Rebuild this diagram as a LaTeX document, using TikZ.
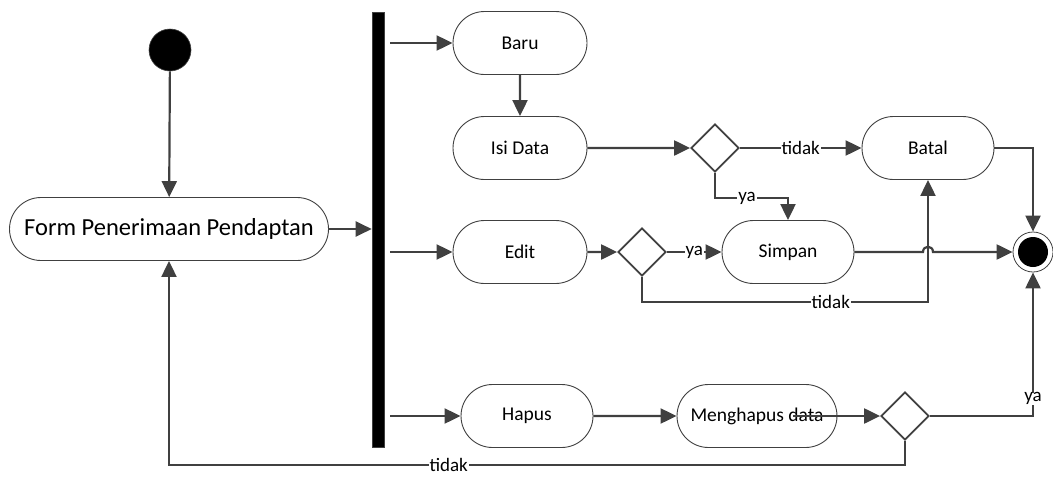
\documentclass[tikz,border=0pt]{standalone}
\usepackage{fontspec}
\setmainfont{Carlito}
\usetikzlibrary{arrows.meta,shapes.geometric,shapes.misc,calc}
\definecolor{ln}{HTML}{404040}
\tikzset{
  act/.style={rounded rectangle, draw=ln, line width=0.9pt, fill=white, minimum width=134pt, minimum height=63pt, inner sep=0pt, font=\fontsize{19.5}{20}\selectfont},
  dec/.style={diamond, draw=ln, line width=1.8pt, fill=white, minimum width=48pt, minimum height=48pt, inner sep=0pt},
  flow/.style={draw=ln, line width=2.2pt, -{Triangle[length=16pt,width=15pt]}},
  lbl/.style={fill=white, inner xsep=1pt, inner ysep=0pt, font=\fontsize{19}{19}\selectfont},
}
\begin{document}
\begin{tikzpicture}[x=1pt,y=-1pt]
\useasboundingbox (0,0) rectangle (1053,477);
% nodes
\node[circle, fill=black, draw=ln, line width=0.6pt, minimum size=42pt, inner sep=0pt] (start) at (170,50) {};
\node[act, minimum width=319pt, font=\fontsize{24.5}{25}\selectfont] (form) at (169,229) {Form Penerimaan Pendaptan};
\node[rectangle, fill=black, draw=ln, line width=0.6pt, minimum width=12pt, minimum height=435pt, inner sep=0pt] (bar) at (378,229.5) {};
\node[act] (baru) at (520,43) {Baru};
\node[act] (isi) at (520,148) {Isi Data};
\node[act] (edit) at (520,252) {Edit};
\node[act, minimum width=132pt] (hapus) at (527,416) {Hapus};
\node[act, minimum width=160pt] (mh) at (757,416) {Menghapus data};
\node[dec] (d1) at (715,148) {};
\node[dec] (d2) at (642,252) {};
\node[dec] (d3) at (905,416) {};
\node[act, minimum width=132pt] (batal) at (928,148) {Batal};
\node[act, minimum width=132pt] (simpan) at (788,252) {Simpan};
\node[circle, draw=ln, line width=0.8pt, fill=white, minimum size=40pt, inner sep=0pt] (end) at (1033,252) {};
\node[circle, fill=black, minimum size=30pt, inner sep=0pt] (endin) at (end.center) {};
% connectors
\draw[flow] (start) -- (form);
\draw[flow] (form.east) -- (form.east -| bar.west);
\draw[flow] ($(bar.east |- baru.west)+(6,0)$) -- (baru.west);
\draw[flow] ($(bar.east |- edit.west)+(6,0)$) -- (edit.west);
\draw[flow] ($(bar.east |- hapus.west)+(6,0)$) -- (hapus.west);
\draw[flow] (baru) -- (isi);
\draw[flow] (isi) -- (d1);
\draw[flow] (d1) -- node[lbl]{tidak} (batal);
\coordinate (c1) at (788,198);
\draw[flow] (d1.south) |- node[lbl, pos=0.72]{ya} (c1) -- (simpan.north);
\draw[flow] (edit) -- (d2);
\draw[flow] (d2) -- node[lbl]{ya} (simpan);
\coordinate (c2) at (928,302);
\draw[flow] (d2.south) |- node[lbl, pos=0.83]{tidak} (c2) -- (batal.south);
\coordinate (h1) at (923,252);
\coordinate (h2) at (933,252);
\draw[flow] (simpan.east) -- (h1) .. controls ($(h1)+(0,-7)$) and ($(h2)+(0,-7)$) .. (h2) -- (end.west);
\draw[flow] (batal.east) -| (end.north);
\draw[flow] (hapus) -- (mh);
\draw[flow] ($(mh.center)+(36,0)$) -- (d3.west);
\draw[flow] (d3.east) -| node[lbl, pos=0.56]{ya} (end.south);
\coordinate (c3) at (169,465);
\draw[flow] (d3.south) |- node[lbl, pos=0.81]{tidak} (c3) -- (form.south);
\end{tikzpicture}
\end{document}
